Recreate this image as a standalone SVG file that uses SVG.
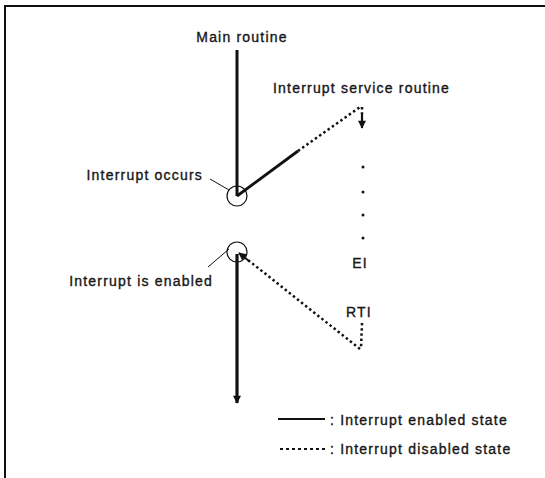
<svg xmlns="http://www.w3.org/2000/svg" width="545" height="478" viewBox="0 0 545 478">
  <defs>
    <style>
      text { font-family: "Liberation Sans", Arial, sans-serif; font-size: 14px; fill: #161616; stroke: #161616; stroke-width: 0.35; letter-spacing: 1.2px; }
      .frame { stroke: #111; stroke-width: 2; fill: none; }
      .solid { stroke: #111; fill: none; stroke-linecap: butt; }
      .dot { stroke: #111; fill: none; stroke-width: 2.5; stroke-dasharray: 2.4 2.8; }
      .ring { stroke: #111; stroke-width: 1.2; fill: none; }
      .leader { stroke: #111; stroke-width: 1; fill: none; }
      .mark { fill: #111; }
    </style>
    <marker id="tip" viewBox="0 0 10 10" refX="9" refY="5" markerWidth="9" markerHeight="8" markerUnits="userSpaceOnUse" orient="auto">
      <path d="M0,0 L10,5 L0,10 z" class="mark"/>
    </marker>
    <marker id="tipBig" viewBox="0 0 10 10" refX="9" refY="5" markerWidth="14" markerHeight="8" markerUnits="userSpaceOnUse" orient="auto">
      <path d="M0,0 L10,5 L0,10 z" class="mark"/>
    </marker>
  </defs>

  <!-- page frame (top and left edges only) -->
  <path class="frame" d="M545,6 L5,6 L5,478"/>

  <g id="main-routine">
    <text x="242" y="42" text-anchor="middle">Main routine</text>
  </g>

  <g id="interrupt-occurs">
    <circle class="ring" cx="237" cy="196" r="10"/>
    <line class="leader" x1="210" y1="179" x2="229" y2="190"/>
    <text x="203" y="180" text-anchor="end">Interrupt occurs</text>
  </g>

  <g id="service-routine">
    <text x="273" y="93">Interrupt service routine</text>
    <circle class="mark" cx="363" cy="167" r="1.5"/>
    <circle class="mark" cx="363" cy="192" r="1.5"/>
    <circle class="mark" cx="363" cy="215" r="1.5"/>
    <circle class="mark" cx="363" cy="238" r="1.5"/>
  </g>

  <g id="ei">
    <text x="360" y="268" text-anchor="middle">EI</text>
  </g>

  <g id="rti">
    <text x="359" y="317" text-anchor="middle">RTI</text>
  </g>

  <g id="interrupt-enabled">
    <circle class="ring" cx="237" cy="252" r="10"/>
    <line class="leader" x1="208" y1="267" x2="229" y2="249"/>
    <text x="213" y="286" text-anchor="end">Interrupt is enabled</text>
  </g>

  <g id="connectors">
    <!-- main routine flow, interrupt enabled -->
    <line class="solid" stroke-width="3" x1="237" y1="50" x2="237" y2="196"/>
    <line class="solid" stroke-width="2.8" x1="237" y1="196" x2="298" y2="151"/>
    <!-- entry into service routine, interrupt disabled -->
    <line class="dot" x1="298" y1="151" x2="360" y2="107"/>
    <line class="dot" x1="362" y1="107" x2="362" y2="114"/>
    <line class="solid" stroke-width="2.2" x1="362" y1="113" x2="362" y2="128" marker-end="url(#tip)"/>
    <!-- return from service routine -->
    <line class="dot" x1="362" y1="323" x2="361" y2="349"/>
    <line class="dot" x1="360" y1="349" x2="248" y2="260"/>
    <line class="solid" stroke-width="1.8" x1="249" y1="261" x2="239" y2="253" marker-end="url(#tip)"/>
    <!-- main routine resumes -->
    <line class="solid" stroke-width="3.2" x1="237" y1="254" x2="237" y2="403" marker-end="url(#tipBig)"/>
  </g>

  <g id="legend">
    <line class="solid" stroke-width="1.8" x1="278" y1="419" x2="325" y2="419"/>
    <text x="330" y="425">: Interrupt enabled state</text>
    <line class="solid" stroke-width="1.8" stroke-dasharray="3 3" x1="280" y1="449" x2="325" y2="449"/>
    <text x="330" y="454">: Interrupt disabled state</text>
  </g>
</svg>
